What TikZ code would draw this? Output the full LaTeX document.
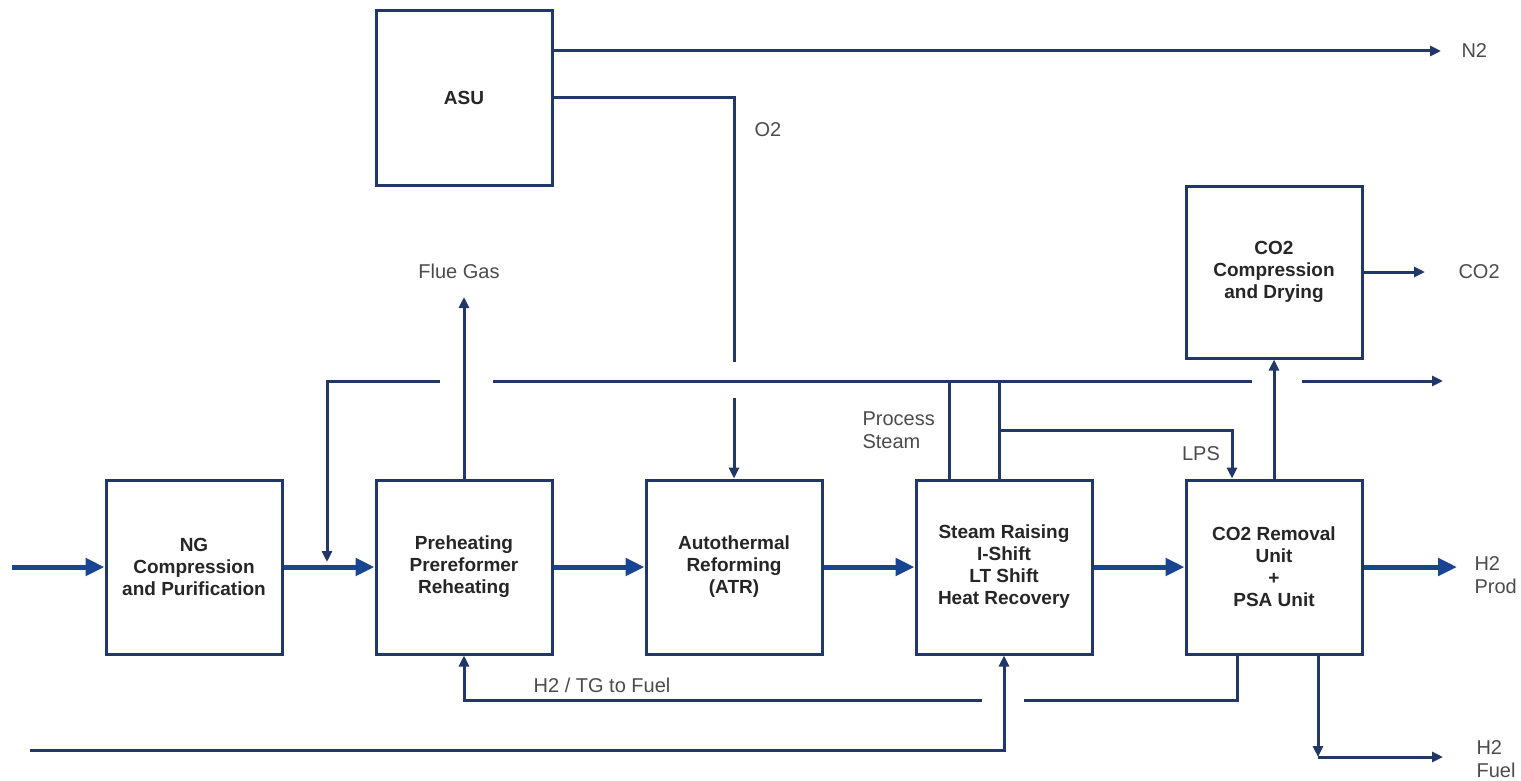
\documentclass[tikz,border=0pt]{standalone}
\usepackage{fontspec}
\setmainfont{Liberation Sans}
\usetikzlibrary{arrows.meta, positioning}
\definecolor{pipeblue}{RGB}{33,55,105}
\definecolor{mainblue}{RGB}{25,68,145}
\definecolor{labelgray}{RGB}{75,75,75}
\tikzset{
  x=1pt, y=-1pt, % pixel like coordinates, y grows downwards
  node distance=270pt, % centre to centre distance of the unit boxes
  unit/.style={draw=pipeblue, line width=3pt, fill=white,
    minimum width=176pt, minimum height=174pt, align=center,
    font=\fontsize{19}{22}\selectfont\bfseries, text=black!85}, % process units
  main line/.style={draw=mainblue, line width=5pt,
    -{Triangle[length=19pt,width=17pt]}}, % main process stream
  pipe/.style={draw=pipeblue, line width=3pt}, % utility lines
  pipe arrow/.style={pipe, -{Triangle[length=11pt,width=10pt]}},
  tag/.style={font=\fontsize{20}{23}\selectfont, text=labelgray, align=left}, % stream labels
}

\begin{document}
\begin{tikzpicture}
    \useasboundingbox (0,0) rectangle (1521,781);

    \node[unit] (ng_comp) at (194,567) {NG\\Compression\\and Purification};
    \node[unit, right of=ng_comp] (pre_heat) {Preheating\\Prereformer\\Reheating};
    \node[unit, right of=pre_heat] (atr) {Autothermal\\Reforming\\(ATR)};
    \node[unit, right of=atr] (shift) {Steam Raising\\I-Shift\\LT Shift\\Heat Recovery};
    \node[unit, right of=shift] (co2_rem) {CO2 Removal\\Unit\\+\\PSA Unit};
    \node[unit] (asu) at (464,98) {ASU};
    \node[unit, minimum height=172pt] (co2_comp) at (1274,272) {CO2\\Compression\\and Drying};

    % free ends and corners
    \coordinate (feed) at (12,567);
    \coordinate (h2_prod) at (1457,567);
    \coordinate (n2_end) at (1441,51);
    \coordinate (o2_turn) at (atr.north |- asu.east);
    \coordinate (o2_gap_a) at (734,362);
    \coordinate (o2_gap_b) at (734,398);
    \coordinate (flue) at (464,297);
    \coordinate (co2_out) at (1425,272);
    \coordinate (hd_left) at (327,381);
    \coordinate (mix) at (327,562);
    \coordinate (hd_gap1a) at (440,381);
    \coordinate (hd_gap1b) at (493,381);
    \coordinate (hd_gap2a) at (1252,381);
    \coordinate (hd_gap2b) at (1302,381);
    \coordinate (hd_right) at (1443,381);
    \coordinate (ps_1) at (949,381);
    \coordinate (ps_2) at (999,381);
    \coordinate (lps_1) at (999,430);
    \coordinate (lps_2) at (1232,430);
    \coordinate (tg_a) at (1237,700);
    \coordinate (tg_gap_a) at (1024,700);
    \coordinate (tg_gap_b) at (982,700);
    \coordinate (tg_b) at (464,700);
    \coordinate (bfw_in) at (30,750);
    \coordinate (bfw_turn) at (shift.south |- bfw_in);
    \coordinate (fuel_turn) at (1318,757);
    \coordinate (fuel_end) at (1443,757);

    % main process train
    \draw[main line] (feed) -- (ng_comp);
    \draw[main line] (ng_comp) -- (pre_heat);
    \draw[main line] (pre_heat) -- (atr);
    \draw[main line] (atr) -- (shift);
    \draw[main line] (shift) -- (co2_rem);
    \draw[main line] (co2_rem) -- (h2_prod);

    % air separation
    \draw[pipe arrow] (asu.east |- n2_end) -- (n2_end);
    \draw[pipe] (asu.east) -- (o2_turn) -- (o2_gap_a);
    \draw[pipe arrow] (o2_gap_b) -- (atr.north);

    % steam header
    \draw[pipe] (shift.north -| ps_1) -- (ps_1);
    \draw[pipe] (shift.north -| ps_2) -- (ps_2);
    \draw[pipe] (hd_gap2a) -- (hd_gap1b);
    \draw[pipe arrow] (hd_gap1a) -- (hd_left) -- (mix);
    \draw[pipe arrow] (hd_gap2b) -- (hd_right);
    \draw[pipe arrow] (lps_1) -- (lps_2) -- (co2_rem.north -| lps_2);

    \draw[pipe arrow] (pre_heat) -- (flue);
    \draw[pipe arrow] (co2_rem.north) -- (co2_comp.south);
    \draw[pipe arrow] (co2_comp) -- (co2_out);

    % fuel and feed water
    \draw[pipe] (co2_rem.south -| tg_a) -- (tg_a) -- (tg_gap_a);
    \draw[pipe arrow] (tg_gap_b) -- (tg_b) -- (pre_heat.south);
    \draw[pipe arrow] (bfw_in) -- (bfw_turn) -- (shift.south);
    \draw[pipe arrow] (co2_rem.south -| fuel_turn) -- (fuel_turn);
    \draw[pipe arrow] (fuel_turn) -- (fuel_end);

    % labels
    \node[tag] (flue_lbl) at (459,271) {Flue Gas};
    \node[tag] (o2_lbl) at (768,130) {O2};
    \node[tag, anchor=west] (ps_lbl) at (859,430) {Process\\Steam};
    \node[tag] (lps_lbl) at (1201,454) {LPS};
    \node[tag, anchor=west] (n2_lbl) at (1458,51) {N2};
    \node[tag, anchor=west] (co2_lbl) at (1455,272) {CO2};
    \node[tag, anchor=west] (h2p_lbl) at (1471,575) {H2\\Prod};
    \node[tag, anchor=west] (h2f_lbl) at (1473,759) {H2\\Fuel};
    \node[tag] (tg_lbl) at (602,685) {H2 / TG to Fuel};
\end{tikzpicture}
\end{document}
